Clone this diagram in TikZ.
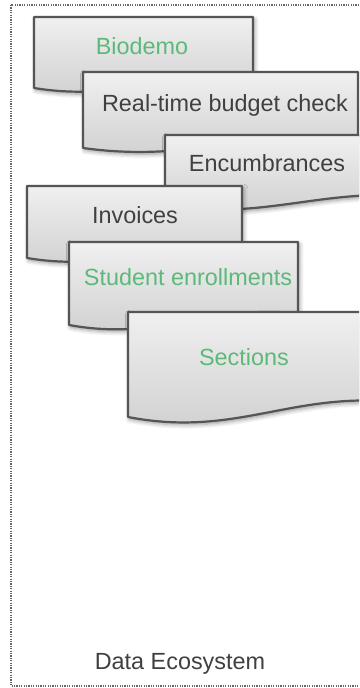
\documentclass[tikz,border=0pt]{standalone}
\usepackage{fontspec}
\setmainfont{Liberation Sans}
\usetikzlibrary{shadows.blur}

\definecolor{boxline}{HTML}{555555}
\definecolor{textgray}{HTML}{404040}
\definecolor{textgreen}{HTML}{5DB97A}

\tikzset{
  docshape/.style={draw=boxline, line width=1.1pt, line join=round,
    top color=gray!12, bottom color=gray!38,
    blur shadow={shadow blur steps=6, shadow xshift=0.8pt, shadow yshift=-1.2pt, shadow opacity=40}},
  label/.style={anchor=base, inner sep=0pt, font=\fontsize{11.7}{14}\selectfont},
  darklabel/.style={label, text=textgray},
  greenlabel/.style={label, text=textgreen},
  frame/.style={draw=black!60, line width=0.7pt, dash pattern=on 0.6pt off 0.6pt}
}

% left, top, right, bottom-left (pixel units, y downwards)
\newcommand{\docbox}[4]{%
  \path[docshape] (#1,#2) -- (#3,#2) -- (#3,{#4-0.14*(#4-#2)})
    .. controls ({#1+0.6*(#3-#1)},{#4-0.25*(#4-#2)}) and ({#1+0.4*(#3-#1)},{#4+0.2*(#4-#2)})
    .. (#1,#4) -- cycle;}

\begin{document}
\begin{tikzpicture}[x=0.5pt, y=-0.5pt]
  \useasboundingbox (0,0) rectangle (359,688);
  \clip (0,0) rectangle (359,688);
  \coordinate (frametl) at (11,5);
  \coordinate (framebr) at (380,686);
  \draw[frame] (frametl) rectangle (framebr);

  \docbox{34}{17}{253}{88}
  \node[greenlabel] (biodemo) at (142,55) {Biodemo};
  \docbox{83}{72}{358}{148}
  \node[darklabel] (budget) at (225,112) {Real-time budget check};
  \docbox{165}{135}{420}{206}
  \node[darklabel] (encumb) at (267,172) {Encumbrances};
  \docbox{27}{186}{242}{258}
  \node[darklabel] (invoices) at (135,224) {Invoices};
  \docbox{69}{242}{298}{325}
  \node[greenlabel] (enroll) at (188,286) {Student enrollments};
  \docbox{128}{312}{400}{417}
  \node[greenlabel] (sections) at (244,365) {Sections};

  \node[darklabel] (ecosystem) at (180,669) {Data Ecosystem};
\end{tikzpicture}
\end{document}
